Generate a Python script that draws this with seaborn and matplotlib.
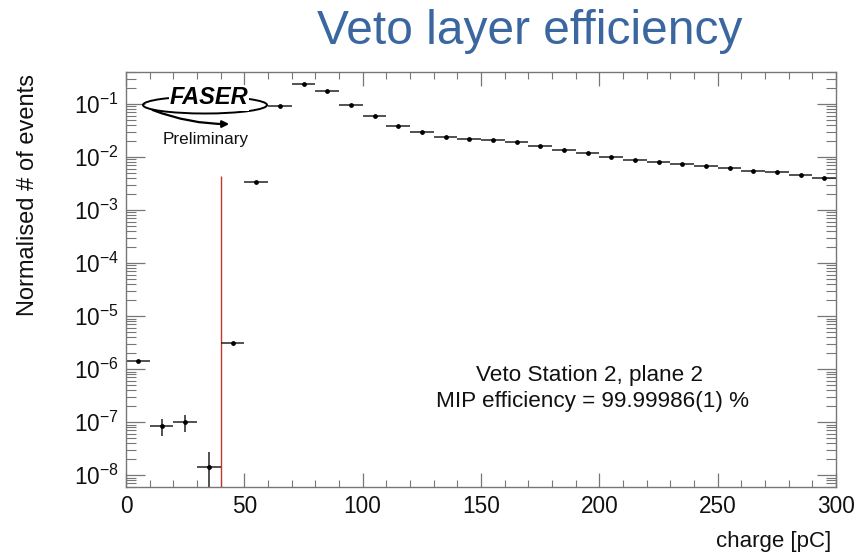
import numpy as np
import pandas as pd
import matplotlib
matplotlib.use("Agg")
import matplotlib.pyplot as plt
import matplotlib.ticker as mticker
from matplotlib.patches import Ellipse, FancyArrowPatch
import seaborn as sns

# Charge spectrum, 10 pC bins (bin centres in pC)
charge = [5, 15, 25, 35, 45, 55, 65, 75, 85, 95, 105, 115, 125, 135, 145,
          155, 165, 175, 185, 195, 205, 215, 225, 235, 245, 255, 265, 275,
          285, 295]
fraction = [1.4e-6, 8.4e-8, 9.9e-8, 1.4e-8, 3.1e-6, 3.4e-3, 9.3e-2, 2.37e-1,
            1.75e-1, 9.7e-2, 5.9e-2, 3.9e-2, 3.0e-2, 2.4e-2, 2.2e-2, 2.1e-2,
            1.9e-2, 1.6e-2, 1.38e-2, 1.17e-2, 1.0e-2, 8.8e-3, 7.9e-3, 7.3e-3,
            6.7e-3, 6.1e-3, 5.5e-3, 5.1e-3, 4.5e-3, 4.1e-3]
fraction_err = [0.0, 3.0e-8, 3.5e-8, 1.4e-8, 0.0, 0.0, 0.0, 0.0, 0.0, 0.0,
                0.0, 0.0, 0.0, 0.0, 0.0, 0.0, 0.0, 0.0, 0.0, 0.0, 0.0, 0.0,
                0.0, 0.0, 0.0, 0.0, 0.0, 0.0, 0.0, 0.0]
bin_half_width = 5.0
threshold = 40.0
threshold_top = 4.3e-3

df = pd.DataFrame({"charge": charge, "fraction": fraction, "err": fraction_err})

sns.set_theme(style="ticks")
plt.rcParams["font.family"] = ["Liberation Sans", "DejaVu Sans"]
plt.rcParams["mathtext.fontset"] = "custom"
plt.rcParams["mathtext.rm"] = "Liberation Sans"
plt.rcParams["mathtext.it"] = "Liberation Sans:italic"
plt.rcParams["mathtext.bf"] = "Liberation Sans:bold"

fig = plt.figure(figsize=(8.56, 5.57), dpi=100)
ax = fig.add_axes([126 / 856, 1 - 487 / 557, 710 / 856, 415 / 557])

ax.set_yscale("log")
ax.set_xlim(0, 300)
ax.set_ylim(6e-9, 0.4)

# error bars: horizontal = bin width, vertical = statistical error
lower = np.minimum(df["err"].values, df["fraction"].values * 0.999)
ax.errorbar(df["charge"], df["fraction"], xerr=bin_half_width,
            yerr=[lower, df["err"].values], fmt="none", ecolor="#222222",
            elinewidth=1.1, capsize=0, zorder=2)
sns.scatterplot(data=df, x="charge", y="fraction", ax=ax, color="black",
                s=12, edgecolor="black", linewidth=0, zorder=3, legend=False)

# threshold line
ax.vlines(threshold, 6e-9, threshold_top, color="#c0392b", linewidth=1.0, zorder=1)

# axes styling
for sp in ax.spines.values():
    sp.set_color("#777777")
    sp.set_linewidth(1.0)
ax.xaxis.set_major_locator(mticker.MultipleLocator(50))
ax.xaxis.set_minor_locator(mticker.MultipleLocator(10))
ax.yaxis.set_major_locator(mticker.LogLocator(base=10, numticks=20))
ax.yaxis.set_minor_locator(mticker.LogLocator(base=10, subs=np.arange(2, 10), numticks=20))
ax.yaxis.set_minor_formatter(mticker.NullFormatter())
ax.yaxis.set_major_formatter(mticker.LogFormatterMathtext())
ax.tick_params(which="both", direction="in", top=True, right=True,
               color="#777777", labelsize=16.3, labelcolor="#111111")
ax.tick_params(which="major", length=10, width=0.9, pad=6)
ax.tick_params(which="minor", length=5, width=0.8)
ax.tick_params(axis="y", which="major", length=14, pad=5)
ax.tick_params(axis="y", which="minor", length=7)

ax.xaxis.label.set_visible(False)
ax.yaxis.label.set_visible(False)
fig.text(831 / 856, 1 - 541 / 557, "charge [pC]", ha="right", va="center",
         fontsize=16, color="#111111")
fig.text(28 / 856, 1 - 195 / 557, "Normalised # of events", ha="center",
         va="center", rotation=90, fontsize=17, color="#111111")

# slide title
fig.text(530 / 856, 1 - 31 / 557, "Veto layer efficiency", ha="center",
         va="center", fontsize=34.5, color="#3a67a0")

# annotations
fig.text(590 / 856, 1 - 376 / 557, "Veto Station 2, plane 2",
         ha="center", va="center", fontsize=16.2, color="#111111")
fig.text(592 / 856, 1 - 402 / 557, "MIP efficiency = 99.99986(1) %",
         ha="center", va="center", fontsize=16.2, color="#111111")

# FASER logo
ell = Ellipse((205 / 856, 1 - 105 / 557), 124 / 856, 17 / 557,
              transform=fig.transFigure, fill=False, edgecolor="black",
              linewidth=1.4)
fig.patches.append(ell)
fig.text(209 / 856, 1 - 98 / 557, "FASER", ha="center", va="center",
         fontsize=17, fontweight="bold", fontstyle="italic", color="black",
         family=["Liberation Sans"],
         bbox=dict(boxstyle="square,pad=0.05", fc="white", ec="none"))
arr = FancyArrowPatch((150 / 856, 1 - 109 / 557), (232 / 856, 1 - 124 / 557),
                      transform=fig.transFigure, arrowstyle="-|>", mutation_scale=10,
                      connectionstyle="arc3,rad=0.1", color="black", linewidth=1.6)
fig.patches.append(arr)
fig.text(206 / 856, 1 - 139 / 557, "Preliminary", ha="center", va="center",
         fontsize=12.3, color="#111111")

fig.savefig("out.png", dpi=100)
